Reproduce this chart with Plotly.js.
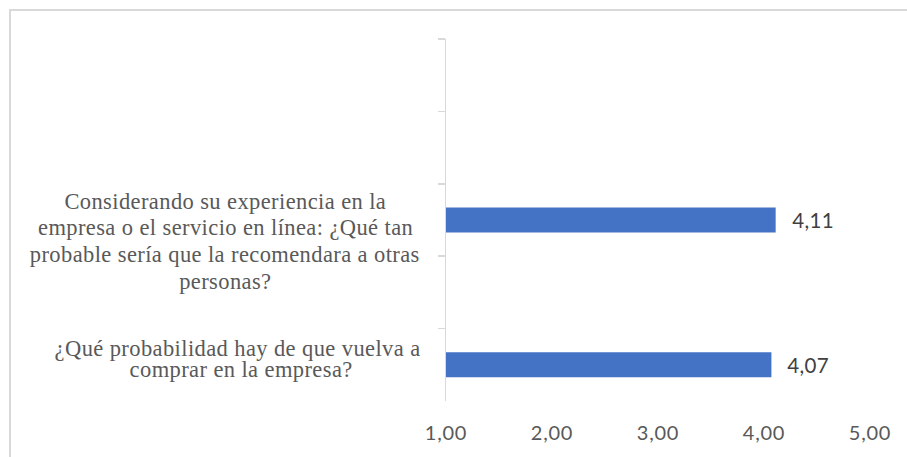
<!DOCTYPE html>
<html>
<head>
<meta charset="utf-8">
<script src="https://cdn.plot.ly/plotly-3.0.1.min.js"></script>
<style>
  html, body { margin: 0; padding: 0; background: #ffffff; overflow: hidden; }
  #frame { position: absolute; left: 9px; top: 9px; width: 1000px; height: 1000px;
           border: 2px solid #d9d9d9; box-sizing: border-box; }
  #chart { position: absolute; left: 0; top: 0; width: 907px; height: 457px; }
  #chart .annotation-text { letter-spacing: 0.4px; }
  #chart .xtick text { letter-spacing: 0.8px; }
</style>
</head>
<body>
<div id="frame"></div>
<div id="chart"></div>
<script>
// Survey items (five category slots, only two answered)
const categories = ["slot-1", "slot-2", "recomendaria", "slot-4", "volveria"];
const categoryLabels = [
  [],
  [],
  ["Considerando su experiencia en la",
   "empresa o el servicio en línea: ¿Qué tan",
   "probable sería que la recomendara a otras",
   "personas?"],
  [],
  ["¿Qué probabilidad hay de que vuelva a",
   "comprar en la empresa?"]
];
// Mean scores
const values = [null, null, 4.11, null, 4.07];
// X axis ticks
const tickValues = [1, 2, 3, 4, 5];
const tickLabels = ["1,00", "2,00", "3,00", "4,00", "5,00"];

const fmt = v => v.toFixed(2).replace(".", ",");
const numFont = { family: "Lato, 'Open Sans', sans-serif", size: 20, color: "#595959" };
const labelFont = { family: "'Liberation Serif', 'DejaVu Serif', serif", size: 22.5, color: "#595959" };

// Per-label text placement: vertical offset of each wrapped line from the
// category centre (px, positive = up) and horizontal centre of each line
// relative to the left edge of the plot area (px).
const labelPlacement = {
  2: { dy: [19, -7.3, -34.5, -61], dx: [-221, -221, -221, -221] },
  4: { dy: [16, -5], dx: [-209, -205] }
};

const annotations = [];
categories.forEach((c, i) => {
  categoryLabels[i].forEach((line, k) => {
    const p = labelPlacement[i];
    annotations.push({
      xref: "paper", yref: "y", x: 0, y: c,
      xanchor: "center", yanchor: "middle", align: "center",
      xshift: p.dx[k], yshift: p.dy[k],
      text: line, showarrow: false, font: labelFont
    });
  });
  if (values[i] != null) {
    annotations.push({
      xref: "x", yref: "y", x: values[i], y: c,
      xanchor: "left", yanchor: "middle", xshift: 15,
      text: fmt(values[i]), showarrow: false,
      font: { family: numFont.family, size: 20.5, color: "#404040" }
    });
  }
});

const trace = {
  type: "bar", orientation: "h",
  x: values, y: categories,
  width: 0.345,
  marker: { color: "#4472C4", line: { width: 0 } },
  hoverinfo: "none", cliponaxis: true
};

const layout = {
  width: 907, height: 457,
  margin: { l: 446, r: 37, t: 39, b: 56, pad: 0 },
  paper_bgcolor: "rgba(0,0,0,0)", plot_bgcolor: "rgba(0,0,0,0)",
  showlegend: false,
  xaxis: {
    range: [1, 5], tickvals: tickValues, ticktext: tickLabels,
    showgrid: false, zeroline: false, showline: false, ticks: "",
    ticklabelstandoff: 18, tickfont: numFont, fixedrange: true
  },
  yaxis: {
    type: "category", categoryorder: "array", categoryarray: categories,
    range: [4.5, -0.5], showticklabels: false,
    showline: true, linecolor: "#d9d9d9", linewidth: 1.5,
    ticks: "outside", tickson: "boundaries", ticklen: 7, tickcolor: "#d9d9d9", tickwidth: 1.5,
    showgrid: false, zeroline: false, fixedrange: true
  },
  annotations: annotations
};

Plotly.newPlot("chart", [trace], layout, { staticPlot: true, displayModeBar: false });
</script>
</body>
</html>
